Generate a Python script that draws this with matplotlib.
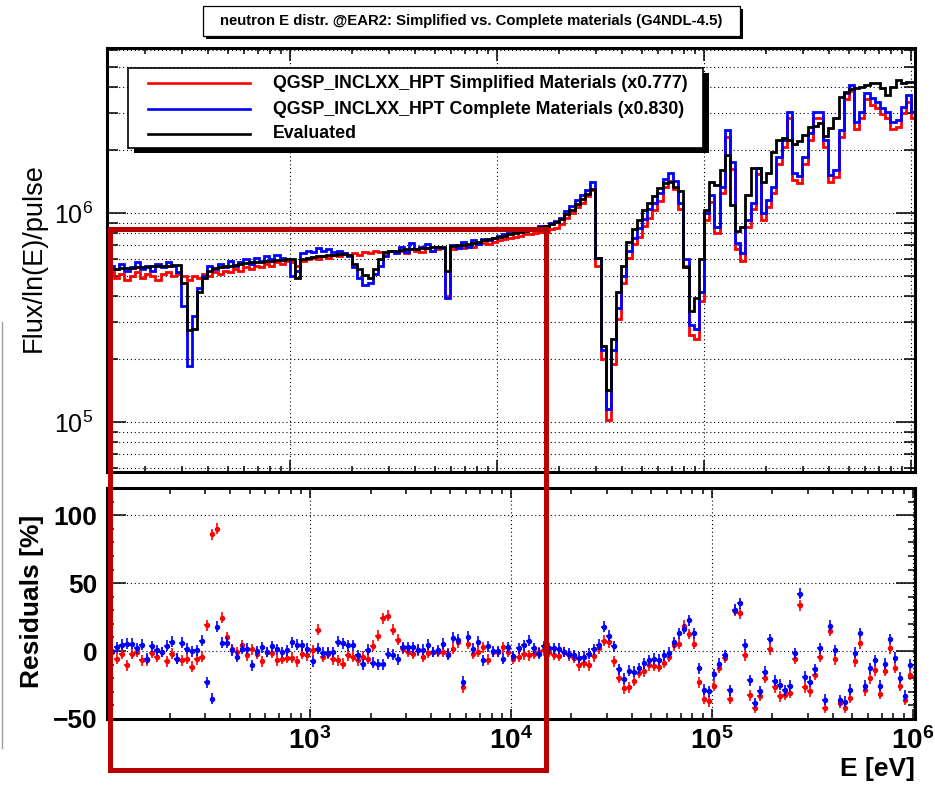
import numpy as np
import matplotlib.pyplot as plt
from matplotlib import font_manager
from matplotlib.patches import Rectangle
from matplotlib.lines import Line2D
from matplotlib.ticker import LogLocator, FixedLocator, MultipleLocator, NullFormatter

# helvetica-like font
names = {f.name for f in font_manager.fontManager.ttflist}
FONT = 'Liberation Sans' if 'Liberation Sans' in names else 'DejaVu Sans'
plt.rcParams['font.family'] = FONT

# ---------------- data ----------------
title = 'neutron E distr. @EAR2: Simplified vs. Complete materials (G4NDL-4.5)'
series_labels = ['QGSP_INCLXX_HPT Simplified Materials (x0.777)',
                 'QGSP_INCLXX_HPT Complete Materials (x0.830)',
                 'Evaluated']

# log10(E) binning of the histograms: 40 bins per decade, 1e2 .. 10^6.05 eV
log_e_min, log_e_max = 2.0, 6.05
FLUX_UNIT = 1e5

# Flux/ln(E)/pulse in units of 1e5
flux_eval = [
    5.30, 5.32, 5.34, 5.36, 5.38, 5.40, 5.42, 5.44, 5.46, 5.48,
    5.50, 5.52, 5.54, 5.56, 5.58, 5.60, 5.60, 5.62, 5.62, 4.60,
    2.76, 2.80, 4.20, 4.90, 5.30, 5.45, 5.50, 5.55, 5.60, 5.65,
    5.70, 5.75, 5.80, 5.80, 5.85, 5.90, 5.90, 5.95, 5.95, 6.00,
    6.00, 4.90, 6.05, 6.10, 6.15, 6.20, 6.25, 6.30, 6.30, 6.35,
    6.35, 6.30, 5.70, 5.40, 5.05, 4.90, 5.40, 6.00, 6.50, 6.60,
    6.60, 6.65, 6.70, 6.70, 6.75, 6.80, 6.80, 6.85, 6.90, 6.90,
    5.30, 6.95, 7.00, 7.05, 7.10, 7.20, 7.30, 7.40, 7.50, 7.60,
    7.70, 7.80, 7.90, 8.00, 8.10, 8.20, 8.40, 8.50, 8.60, 8.70,
    8.90, 9.10, 9.40, 9.90, 10.3, 11.0, 11.7, 12.3, 13.0, 6.10,
    2.30, 1.42, 2.50, 4.20, 5.60, 7.30, 8.40, 9.30, 10.3, 11.2,
    12.0, 13.2, 13.9, 14.0, 13.3, 12.8, 5.50, 3.40, 3.90, 6.00,
    10.3, 14.1, 13.6, 16.0, 18.9, 10.9, 8.20, 8.60, 12.2, 16.4,
    16.4, 14.1, 15.5, 19.6, 22.3, 22.8, 22.3, 21.4, 22.0, 23.6,
    25.8, 26.0, 27.0, 23.4, 25.5, 28.5, 36.0, 38.0, 39.0, 39.6,
    40.0, 41.0, 42.0, 42.0, 39.6, 36.7, 40.0, 43.3, 42.0, 42.5,
    42.5, 42.5]

flux_compl = [
    5.2, 5.4, 5.1, 5.5, 5.3, 5.6, 5.4, 5.7, 5.3, 5.5,
    5.8, 5.4, 5.6, 5.3, 5.7, 5.5, 5.8, 5.6, 5.2, 3.6,
    1.85, 3.2, 4.4, 5.0, 5.6, 5.4, 5.7, 5.5, 5.9, 5.6,
    5.8, 6.0, 5.7, 6.1, 5.9, 6.2, 6.0, 6.3, 6.1, 6.0,
    5.0, 5.3, 6.4, 6.6, 6.5, 6.8, 6.6, 6.7, 6.5, 6.6,
    6.4, 6.2, 5.5, 4.9, 4.5, 4.6, 5.1, 5.6, 6.2, 6.6,
    6.4, 6.9, 6.5, 7.2, 6.7, 6.9, 7.1, 6.6, 6.9, 6.8,
    3.9, 7.0, 6.8, 7.3, 6.9, 7.4, 7.1, 7.5, 7.4, 7.6,
    7.76, 7.9, 8.0, 8.1, 8.3, 8.4, 8.5, 8.5, 8.7, 8.7,
    8.96, 9.2, 9.5, 10.2, 10.8, 11.5, 12.2, 12.9, 14.1, 6.1,
    2.2, 1.15, 2.2, 3.5, 5.0, 6.6, 7.6, 8.5, 9.4, 10.4,
    11.2, 12.5, 14.5, 15.5, 14.2, 11.2, 6.0, 2.9, 2.8, 4.2,
    10.0, 12.2, 8.6, 13.3, 25.0, 17.5, 7.2, 6.4, 9.3, 11.2,
    16.4, 10.0, 11.5, 13.3, 18.5, 22.3, 30.4, 15.5, 15.0, 18.5,
    24.1, 30.4, 30.4, 22.3, 15.2, 16.0, 25.0, 37.5, 41.0, 27.2,
    30.4, 37.5, 35.5, 34.0, 31.8, 30.4, 27.2, 27.9, 32.2, 36.7,
    30.4, 30.0]

flux_simpl = [
    5.0, 4.9, 5.1, 4.8, 5.0, 5.2, 4.9, 5.1, 4.8, 5.0,
    5.2, 4.9, 5.1, 5.0, 4.8, 5.1, 5.2, 5.0, 5.1, 5.0,
    4.8, 5.0, 4.9, 5.1, 5.0, 5.2, 5.1, 5.3, 5.2, 5.4,
    5.3, 5.5, 5.4, 5.6, 5.5, 5.7, 5.6, 5.8, 5.7, 5.9,
    5.8, 5.6, 5.9, 6.0, 6.1, 6.0, 6.2, 6.1, 6.3, 6.2,
    6.4, 6.3, 6.4, 6.3, 6.5, 6.4, 6.6, 6.5, 6.4, 6.6,
    6.5, 6.6, 6.4, 6.7, 6.6, 6.5, 6.8, 6.6, 6.7, 6.8,
    4.0, 6.7, 6.9, 6.8, 7.0, 6.9, 7.1, 7.2, 7.1, 7.3,
    7.4, 7.5, 7.6, 7.7, 7.8, 7.9, 7.95, 8.0, 8.1, 8.1,
    8.4, 8.5, 8.9, 9.5, 10.0, 10.7, 11.2, 12.0, 12.9, 5.6,
    2.0, 1.02, 1.9, 3.1, 4.6, 6.1, 7.1, 7.7, 8.7, 9.5,
    10.3, 11.4, 13.3, 14.2, 13.0, 10.5, 5.6, 2.6, 2.5, 3.8,
    9.3, 11.3, 8.0, 12.4, 23.2, 16.3, 6.7, 5.9, 8.6, 10.4,
    15.3, 9.3, 10.7, 12.4, 17.2, 20.7, 28.3, 14.4, 13.9, 17.2,
    22.4, 28.3, 28.3, 20.7, 14.1, 14.9, 23.2, 34.9, 38.1, 25.3,
    28.3, 34.9, 33.0, 31.6, 29.6, 28.3, 25.3, 25.9, 29.9, 34.1,
    28.3, 27.9]

# residuals [%] per bin (first 160 bins, 1e2 .. 1e6 eV)
res_compl = [
    0.0, 2.9, 4.6, 5.3, 5.3, 2.2, 4.6, -5.6, 3.4, 0.5,
    -0.7, 4.0, 7.0, -5.6, 6.0, 1.7, -0.2, 0.5, 7.7, -23.0,
    -35.0, 18.0, 6.0, 6.0, 0.5, -4.3, 1.7, 1.7, -10.4, -0.2,
    2.9, -0.7, 3.4, 1.2, -0.7, 0.5, 6.5, 4.8, 4.1, 1.7,
    -7.5, 1.7, -1.2, -1.2, -0.7, 7.0, 5.8, 4.1, 4.1, -3.1,
    -9.7, 1.0, -8.5, -9.7, -9.7, -1.9, -2.7, -6.0, 2.9, 2.9,
    2.9, 1.0, 1.0, 4.6, -0.7, 0.5, 5.3, -2.7, 9.7, 8.5,
    -22.5, 10.6, 1.7, 7.0, -6.8, 3.4, -0.2, -0.2, -5.6, 2.9,
    -3.6, 2.2, 4.1, 7.7, 2.2, -1.9, 3.4, 2.2, 2.2, 1.7,
    -0.7, -1.9, -3.1, -5.0, -4.3, -1.9, 1.2, 4.8, 17.9, 11.4,
    3.4, -13.5, -20.5, -14.5, -15.2, -12.8, -9.0, -6.8, -5.6, -6.3,
    -3.1, -1.2, 6.5, 13.0, 16.2, 22.7, 13.0, -12.8, -28.5, -29.7,
    -17.1, -9.2, -3.1, -29.0, 30.4, 35.3, 4.8, -21.5, -38.2, -29.7,
    -15.2, 8.9, -21.7, -24.9, -29.0, -25.4, -1.5, 42.3, -18.8, -22.5,
    -13.5, 2.2, -35.7, 18.6, 0.5, -36.2, -37.4, -28.5, -1.2, 13.3,
    -25.4, -12.8, -6.8, -25.4, -9.2, 8.9, -4.8, -19.6, -32.9, -9.9]

res_simpl = [
    -0.7, -5.6, -1.9, -10.4, -1.9, -0.7, -6.8, -6.8, -1.2, -4.3,
    -0.7, -7.5, -1.9, -5.6, -6.8, -5.6, -11.6, -6.0, -4.3, 19.1,
    86.0, 90.0, 24.6, 10.1, 1.2, -0.7, 4.1, -3.1, 1.2, -1.9,
    -7.5, -0.7, -1.2, -6.8, -5.6, -4.8, -4.8, -7.5, -1.9, -3.1,
    0.5, 15.7, -4.3, -1.9, -6.0, -6.8, -9.2, -3.1, -4.3, -6.8,
    -4.3, -5.6, 4.0, 11.4, 24.0, 26.0, 15.7, 8.5, 1.7, -0.7,
    -1.9, 0.5, -4.3, -1.2, -0.7, -0.7, -0.7, -1.9, 1.7, 6.5,
    -26.8, 5.3, -1.9, -0.7, 2.9, -6.3, -0.7, -0.7, 2.9, -0.7,
    -5.6, -4.3, -2.4, -3.1, -1.9, -0.7, 0.5, -0.7, -2.7, -3.6,
    -0.7, -3.1, -4.8, -10.4, -8.5, -10.4, -3.9, 2.2, 7.7, 6.5,
    -7.5, -19.6, -27.3, -26.6, -22.0, -15.9, -15.0, -10.4, -10.9, -11.6,
    -8.5, -4.3, 4.1, 5.3, 18.6, 12.6, 5.3, -22.9, -35.0, -37.0,
    -25.6, -12.1, -4.8, -35.0, 29.7, 27.8, -3.1, -32.4, -41.8, -33.0,
    -19.6, 1.2, -26.8, -33.3, -32.1, -30.9, -5.6, 33.6, -26.6, -29.7,
    -17.6, -4.3, -41.8, 15.0, -6.0, -38.2, -41.8, -34.3, -7.5, 5.8,
    -29.0, -20.0, -14.0, -31.6, -14.5, 2.2, -12.1, -25.4, -35.7, -17.6]
res_err = 4.0

x_tick_decades = [1e3, 1e4, 1e5, 1e6]

# ---------------- figure ----------------
RED, BLUE, BLACK = '#ff0000', '#0000ff', '#000000'
BOX_RED = '#bb0000'
W, H = 935, 794

fig = plt.figure(figsize=(W / 100, H / 100), dpi=100)
ax1 = fig.add_axes([107 / W, 1 - 472 / H, 808 / W, 424 / H])
ax2 = fig.add_axes([107 / W, 1 - 719 / H, 808 / W, 231 / H])

edges = np.logspace(log_e_min, log_e_max, len(flux_eval) + 1)

ax1.stairs(np.array(flux_simpl) * FLUX_UNIT, edges, color=RED, lw=2.0, zorder=2)
ax1.stairs(np.array(flux_compl) * FLUX_UNIT, edges, color=BLUE, lw=2.0, zorder=2.1)
ax1.stairs(np.array(flux_eval) * FLUX_UNIT, edges, color=BLACK, lw=2.0, zorder=2.2)

# residual points at bin centres
r_edges = edges[:len(res_simpl) + 1]
centers = np.sqrt(r_edges[:-1] * r_edges[1:])
xerr = [centers - r_edges[:-1], r_edges[1:] - centers]
ax2.errorbar(centers, res_simpl, yerr=res_err, xerr=xerr, fmt='o', ms=2.9,
             color=RED, ecolor=RED, elinewidth=1.2, capsize=0, zorder=3)
ax2.errorbar(centers, res_compl, yerr=res_err, xerr=xerr, fmt='o', ms=2.9,
             color=BLUE, ecolor=BLUE, elinewidth=1.2, capsize=0, zorder=3.1)

grid_kw = dict(color='black', lw=0.8, ls=(0, (1, 2.5)))
for ax in (ax1, ax2):
    ax.set_xscale('log')
    for s in ax.spines.values():
        s.set_linewidth(2.2)
    ax.tick_params(which='both', direction='in', top=True, right=True, width=1.1)
    ax.xaxis.set_minor_locator(LogLocator(base=10, subs=np.arange(2, 10), numticks=30))
    ax.xaxis.set_minor_formatter(NullFormatter())

# top panel
ax1.set_yscale('log')
ax1.set_xlim(130.6, 1.045e6)
ax1.set_ylim(5.77e4, 6.15e6)
ax1.xaxis.set_major_locator(LogLocator(base=10, numticks=30))
ax1.xaxis.set_major_formatter(NullFormatter())
ax1.yaxis.set_minor_locator(LogLocator(base=10, subs=np.arange(2, 10), numticks=30))
ax1.yaxis.set_minor_formatter(NullFormatter())
ax1.tick_params(axis='y', which='major', length=14, labelsize=18, pad=10)
ax1.tick_params(axis='y', which='minor', length=8)
ax1.tick_params(axis='x', which='major', length=9)
ax1.tick_params(axis='x', which='minor', length=4.5)
ax1.grid(True, which='major', axis='x', **grid_kw)
ax1.grid(True, which='both', axis='y', **grid_kw)
ax1.set_ylabel('Flux/ln(E)/pulse', fontsize=19.5)
ax1.yaxis.set_label_coords(-0.0743, 0.505)

# bottom panel
ax2.set_xlim(97.7, 1.024e6)
ax2.set_ylim(-50, 120)
ax2.xaxis.set_major_locator(FixedLocator(x_tick_decades))
ax2.yaxis.set_major_locator(MultipleLocator(50))
ax2.yaxis.set_minor_locator(MultipleLocator(10))
ax2.tick_params(axis='y', which='major', length=14, labelsize=19, pad=7)
ax2.tick_params(axis='y', which='minor', length=5)
ax2.tick_params(axis='x', which='major', length=7, labelsize=20, pad=6)
ax2.tick_params(axis='x', which='minor', length=4)
ax2.grid(True, which='major', **grid_kw)
ax2.set_ylabel('Residuals [%]', fontsize=19, fontweight='bold')
ax2.yaxis.set_label_coords(-0.0780, 0.51)
ax2.set_xlabel('E [eV]', fontsize=19, fontweight='bold', loc='right')
ax2.xaxis.set_label_coords(1.0, (719 - 757) / 231)


def ax1_frac(px, py):
    return (px - 107) / 808, (472 - py) / 424


# legend box with ROOT-like shadow
lx0, ly0 = ax1_frac(128, 148)
lx1, ly1 = ax1_frac(703, 68)
sx, sy = 6 / 808, 5 / 424
ax1.add_patch(Rectangle((lx0 + sx, ly0 - sy), lx1 - lx0, ly1 - ly0, transform=ax1.transAxes,
                        facecolor='black', edgecolor='none', zorder=5, clip_on=False))
ax1.add_patch(Rectangle((lx0, ly0), lx1 - lx0, ly1 - ly0, transform=ax1.transAxes,
                        facecolor='white', edgecolor='black', lw=1.2, zorder=6, clip_on=False))
for label, color, row_y in zip(series_labels, [RED, BLUE, BLACK], [83, 109, 134]):
    xa, ya = ax1_frac(148, row_y)
    xb, _ = ax1_frac(250, row_y)
    ax1.add_line(Line2D([xa, xb], [ya, ya], transform=ax1.transAxes, color=color,
                        lw=1.9, zorder=7, clip_on=False))
    xt, _ = ax1_frac(273, row_y)
    ax1.text(xt, ya, label, transform=ax1.transAxes, ha='left', va='center',
             fontsize=12.8, fontweight='bold', zorder=8)

# title box with shadow
tx0, tx1, ty0, ty1 = 203 / W, 740 / W, 1 - 36 / H, 1 - 6 / H
fig.add_artist(Rectangle((tx0 + 3 / W, ty0 - 3 / H), tx1 - tx0, ty1 - ty0,
                         transform=fig.transFigure, facecolor='black', edgecolor='none', zorder=5))
fig.add_artist(Rectangle((tx0, ty0), tx1 - tx0, ty1 - ty0, transform=fig.transFigure,
                         facecolor='white', edgecolor='black', lw=0.9, zorder=6))
fig.text((tx0 + tx1) / 2, (ty0 + ty1) / 2, title, ha='center', va='center',
         fontsize=10.7, fontweight='bold', zorder=7)

# dark red highlight frame drawn over the panels
fig.add_artist(Rectangle((109.5 / W, 1 - 769.5 / H), (546 - 109.5) / W, (769.5 - 228.5) / H,
                         transform=fig.transFigure, facecolor='none', edgecolor=BOX_RED,
                         lw=3.6, zorder=10))

# thin grey border line at the far left of the screenshot
fig.add_artist(Line2D([1.5 / W, 1.5 / W], [1 - 322 / H, 1 - 748 / H], transform=fig.transFigure,
                      color='#a0a0a0', lw=1.0, zorder=1))

plt.setp(ax2.get_xticklabels() + ax2.get_yticklabels(), fontweight='bold')

fig.savefig('out.png', dpi=100)
